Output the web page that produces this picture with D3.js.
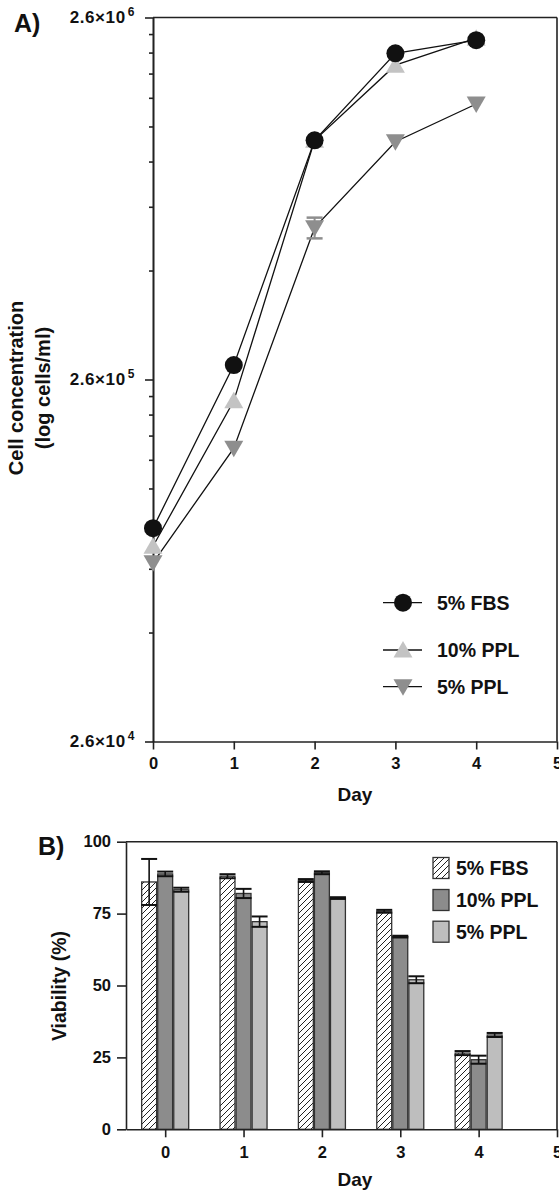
<!DOCTYPE html>
<html>
<head>
<meta charset="utf-8">
<script src="https://cdn.jsdelivr.net/npm/d3@7"></script>
<style>
  body { margin: 0; background: #fff; }
  svg { display: block; }
  text { font-family: "Liberation Sans", Arial, sans-serif; font-weight: bold; fill: #111; }
  .axis path, .axis line { stroke: #222; stroke-width: 1.6; }
  .axis text { font-size: 16.5px; font-family: "Liberation Sans", Arial, sans-serif; font-weight: bold; fill: #111; }
  .axis.conc text { font-size: 17px; letter-spacing: 0.6px; }
</style>
</head>
<body>
<div id="vis"></div>
<script>
// ---- data ----
var DAYS = [0, 1, 2, 3, 4];
var SERIES = ['5% FBS', '10% PPL', '5% PPL'];

// panel A: cell concentration (cells/ml)
var CONC_FBS = [1.01e5, 2.85e5, 1.19e6, 2.07e6, 2.25e6];
var CONC_PPL10 = [9.0e4, 2.27e5, 1.19e6, 1.92e6, 2.28e6];
var CONC_PPL5 = [8.1e4, 1.68e5, 6.83e5, 1.18e6, 1.5e6];
var CONC_PPL5_ERR = [0, 0, 4.5e4, 0, 0];
var CONC_MAJOR = [2.6e4, 2.6e5, 2.6e6];
var CONC_MAJOR_EXP = ['4', '5', '6'];

// panel B: viability (%)
var VIA_FBS = [86, 88, 86.5, 75.8, 26.5];
var VIA_PPL10 = [88.8, 82, 89.2, 67, 24.2];
var VIA_PPL5 = [83.3, 72.2, 80.4, 52, 32.8];
var VIA_FBS_ERR = [8, 0.7, 0.5, 0.5, 0.7];
var VIA_PPL10_ERR = [0.8, 1.6, 0.5, 0.3, 1.4];
var VIA_PPL5_ERR = [0.7, 1.8, 0.3, 1.2, 0.7];
var VIA_TICKS = [0, 25, 50, 75, 100];

var W = 559, H = 1191;
var svg = d3.select('#vis').append('svg').attr('width', W).attr('height', H);

// ================= panel A =================
var a = {left: 153, right: 557, top: 17.5, bottom: 741.5};
var xA = d3.scaleLinear().domain([0, 5]).range([a.left, a.right]);
var yA = d3.scaleLog().domain([2.6e4, 2.6e6]).range([a.bottom, a.top]);

var minorA = [];
[2.6e4, 2.6e5].forEach(function(b) {
  for (var k = 2; k <= 9; k++) minorA.push(b * k);
});

svg.append('line').attr('x1', a.left).attr('x2', a.right).attr('y1', a.top).attr('y2', a.top)
  .attr('stroke', '#222').attr('stroke-width', 1.6);
svg.append('line').attr('x1', a.right).attr('x2', a.right).attr('y1', a.top).attr('y2', a.bottom)
  .attr('stroke', '#222').attr('stroke-width', 1.6);

svg.append('g').attr('class', 'axis')
  .attr('transform', 'translate(' + a.left + ',0)')
  .call(d3.axisLeft(yA).tickValues(minorA).tickSize(4).tickSizeOuter(0).tickFormat(''));

var yAxisA = svg.append('g').attr('class', 'axis conc')
  .attr('transform', 'translate(' + a.left + ',0)')
  .call(d3.axisLeft(yA).tickValues(CONC_MAJOR).tickSize(8).tickSizeOuter(0).tickPadding(10).tickFormat(''));
yAxisA.selectAll('.tick text').each(function(d, i) {
  var t = d3.select(this);
  t.text('2.6×10');
  t.append('tspan').attr('dy', '-7').attr('dx', '2').style('font-size', '12px').text(CONC_MAJOR_EXP[i]);
});

svg.append('g').attr('class', 'axis')
  .attr('transform', 'translate(0,' + a.bottom + ')')
  .call(d3.axisBottom(xA).tickValues([0, 1, 2, 3, 4, 5]).tickSize(8).tickSizeOuter(0).tickPadding(8).tickFormat(d3.format('d')));

svg.append('text').attr('x', 14).attr('y', 32).style('font-size', '25px').text('A)');
svg.append('text').attr('text-anchor', 'middle').attr('x', 355).attr('y', 801).style('font-size', '19px').text('Day');
svg.append('text').attr('text-anchor', 'middle')
  .attr('transform', 'translate(23,388)rotate(-90)').style('font-size', '20px').text('Cell concentration');
svg.append('text').attr('text-anchor', 'middle')
  .attr('transform', 'translate(50,388)rotate(-90)').style('font-size', '20px').text('(log cells/ml)');

var line = d3.line().x(function(d) { return xA(d[0]); }).y(function(d) { return yA(d[1]); });
function pairs(vals) { return DAYS.map(function(d, i) { return [d, vals[i]]; }); }

var seriesA = [
  {name: SERIES[0], vals: CONC_FBS, shape: 'circle', fill: '#111'},
  {name: SERIES[1], vals: CONC_PPL10, shape: 'up', fill: '#c3c3c3'},
  {name: SERIES[2], vals: CONC_PPL5, shape: 'down', fill: '#8e8e8e'}
];

function marker(g, shape, fill) {
  if (shape === 'circle') {
    g.append('circle').attr('r', 9).attr('fill', fill);
  } else if (shape === 'up') {
    g.append('path').attr('d', 'M0,-9L9.5,7.5L-9.5,7.5Z').attr('fill', fill);
  } else {
    g.append('path').attr('d', 'M0,9L9.5,-7.5L-9.5,-7.5Z').attr('fill', fill);
  }
}

// lines first
seriesA.forEach(function(s) {
  svg.append('path').datum(pairs(s.vals)).attr('d', line)
    .attr('fill', 'none').attr('stroke', '#111').attr('stroke-width', 1.3);
});

// error bars (5% PPL)
DAYS.forEach(function(d, i) {
  var e = CONC_PPL5_ERR[i];
  if (!e) return;
  var lo = yA(CONC_PPL5[i] - e), hi = yA(CONC_PPL5[i] + e), cx = xA(d);
  svg.append('line').attr('x1', cx).attr('x2', cx).attr('y1', lo).attr('y2', hi).attr('stroke', '#8e8e8e').attr('stroke-width', 2);
  [lo, hi].forEach(function(yy) {
    svg.append('line').attr('x1', cx - 8).attr('x2', cx + 8).attr('y1', yy).attr('y2', yy).attr('stroke', '#8e8e8e').attr('stroke-width', 2.5);
  });
});

// markers: draw FBS on top at the end
[2, 1, 0].forEach(function(k) {
  var s = seriesA[k];
  svg.append('g').selectAll('g').data(pairs(s.vals)).enter().append('g')
    .attr('transform', function(d) { return 'translate(' + xA(d[0]) + ',' + yA(d[1]) + ')'; })
    .each(function() { marker(d3.select(this), s.shape, s.fill); });
});

// legend A
var legA = [602.7, 650, 686.7];
seriesA.forEach(function(s, i) {
  var g = svg.append('g').attr('transform', 'translate(403,' + legA[i] + ')');
  g.append('line').attr('x1', -20).attr('x2', 19).attr('stroke', '#111').attr('stroke-width', 1.3);
  marker(g, s.shape, s.fill);
  svg.append('text').attr('x', 437).attr('y', legA[i]).attr('dy', '0.36em').style('font-size', '19.5px').text(s.name);
});

// ================= panel B =================
var b = {left: 126, right: 557, top: 841.7, bottom: 1129.3};
var xB = d3.scaleLinear().domain([-0.5, 5]).range([b.left, b.right]);
var yB = d3.scaleLinear().domain([0, 100]).range([b.bottom, b.top]);
var xSub = d3.scaleBand().domain(SERIES).range([-23.5, 23.5]).paddingInner(0.07);

var defs = svg.append('defs');
var pat = defs.append('pattern').attr('id', 'hatch').attr('patternUnits', 'userSpaceOnUse')
  .attr('width', 6).attr('height', 6);
pat.append('rect').attr('width', 6).attr('height', 6).attr('fill', '#fff');
pat.append('path').attr('d', 'M-1,7L7,-1M-1,1L1,-1M5,7L7,5').attr('stroke', '#222').attr('stroke-width', 1);

svg.append('line').attr('x1', b.left).attr('x2', b.right).attr('y1', b.top).attr('y2', b.top)
  .attr('stroke', '#222').attr('stroke-width', 1.6);
svg.append('line').attr('x1', b.right).attr('x2', b.right).attr('y1', b.top).attr('y2', b.bottom)
  .attr('stroke', '#222').attr('stroke-width', 1.6);

var seriesB = [
  {name: SERIES[0], vals: VIA_FBS, err: VIA_FBS_ERR, fill: 'url(#hatch)'},
  {name: SERIES[1], vals: VIA_PPL10, err: VIA_PPL10_ERR, fill: '#8c8c8c'},
  {name: SERIES[2], vals: VIA_PPL5, err: VIA_PPL5_ERR, fill: '#bebebe'}
];

seriesB.forEach(function(s) {
  var g = svg.append('g');
  g.selectAll('rect').data(pairs(s.vals)).enter().append('rect')
    .attr('x', function(d) { return xB(d[0]) + xSub(s.name); })
    .attr('width', xSub.bandwidth())
    .attr('y', function(d) { return yB(d[1]); })
    .attr('height', function(d) { return yB(0) - yB(d[1]); })
    .attr('fill', s.fill).attr('stroke', '#333').attr('stroke-width', 1.3);
  DAYS.forEach(function(d, i) {
    var cx = xB(d) + xSub(s.name) + xSub.bandwidth() / 2;
    var lo = yB(s.vals[i] - s.err[i]), hi = yB(s.vals[i] + s.err[i]);
    g.append('line').attr('x1', cx).attr('x2', cx).attr('y1', lo).attr('y2', hi).attr('stroke', '#111').attr('stroke-width', 1.6);
    [lo, hi].forEach(function(yy) {
      g.append('line').attr('x1', cx - 8).attr('x2', cx + 8).attr('y1', yy).attr('y2', yy).attr('stroke', '#111').attr('stroke-width', 2);
    });
  });
});

svg.append('g').attr('class', 'axis')
  .attr('transform', 'translate(' + b.left + ',0)')
  .call(d3.axisLeft(yB).tickValues(VIA_TICKS).tickSize(9).tickSizeOuter(0).tickPadding(6));
svg.append('g').attr('class', 'axis')
  .attr('transform', 'translate(0,' + b.bottom + ')')
  .call(d3.axisBottom(xB).tickValues([0, 1, 2, 3, 4, 5]).tickSize(8).tickSizeOuter(0).tickPadding(9).tickFormat(d3.format('d')));

svg.append('text').attr('x', 38).attr('y', 855).style('font-size', '25px').text('B)');
svg.append('text').attr('text-anchor', 'middle').attr('x', 355).attr('y', 1186).style('font-size', '19px').text('Day');
svg.append('text').attr('text-anchor', 'middle')
  .attr('transform', 'translate(66,986)rotate(-90)').style('font-size', '19.5px').text('Viability (%)');

// legend B
var legB = [868, 900, 931.7];
seriesB.forEach(function(s, i) {
  svg.append('rect').attr('x', 433).attr('y', legB[i] - 10.5).attr('width', 16).attr('height', 21)
    .attr('fill', s.fill).attr('stroke', '#333').attr('stroke-width', 1.3);
  svg.append('text').attr('x', 456).attr('y', legB[i]).attr('dy', '0.36em').style('font-size', '19.5px').text(s.name);
});
</script>
</body>
</html>
